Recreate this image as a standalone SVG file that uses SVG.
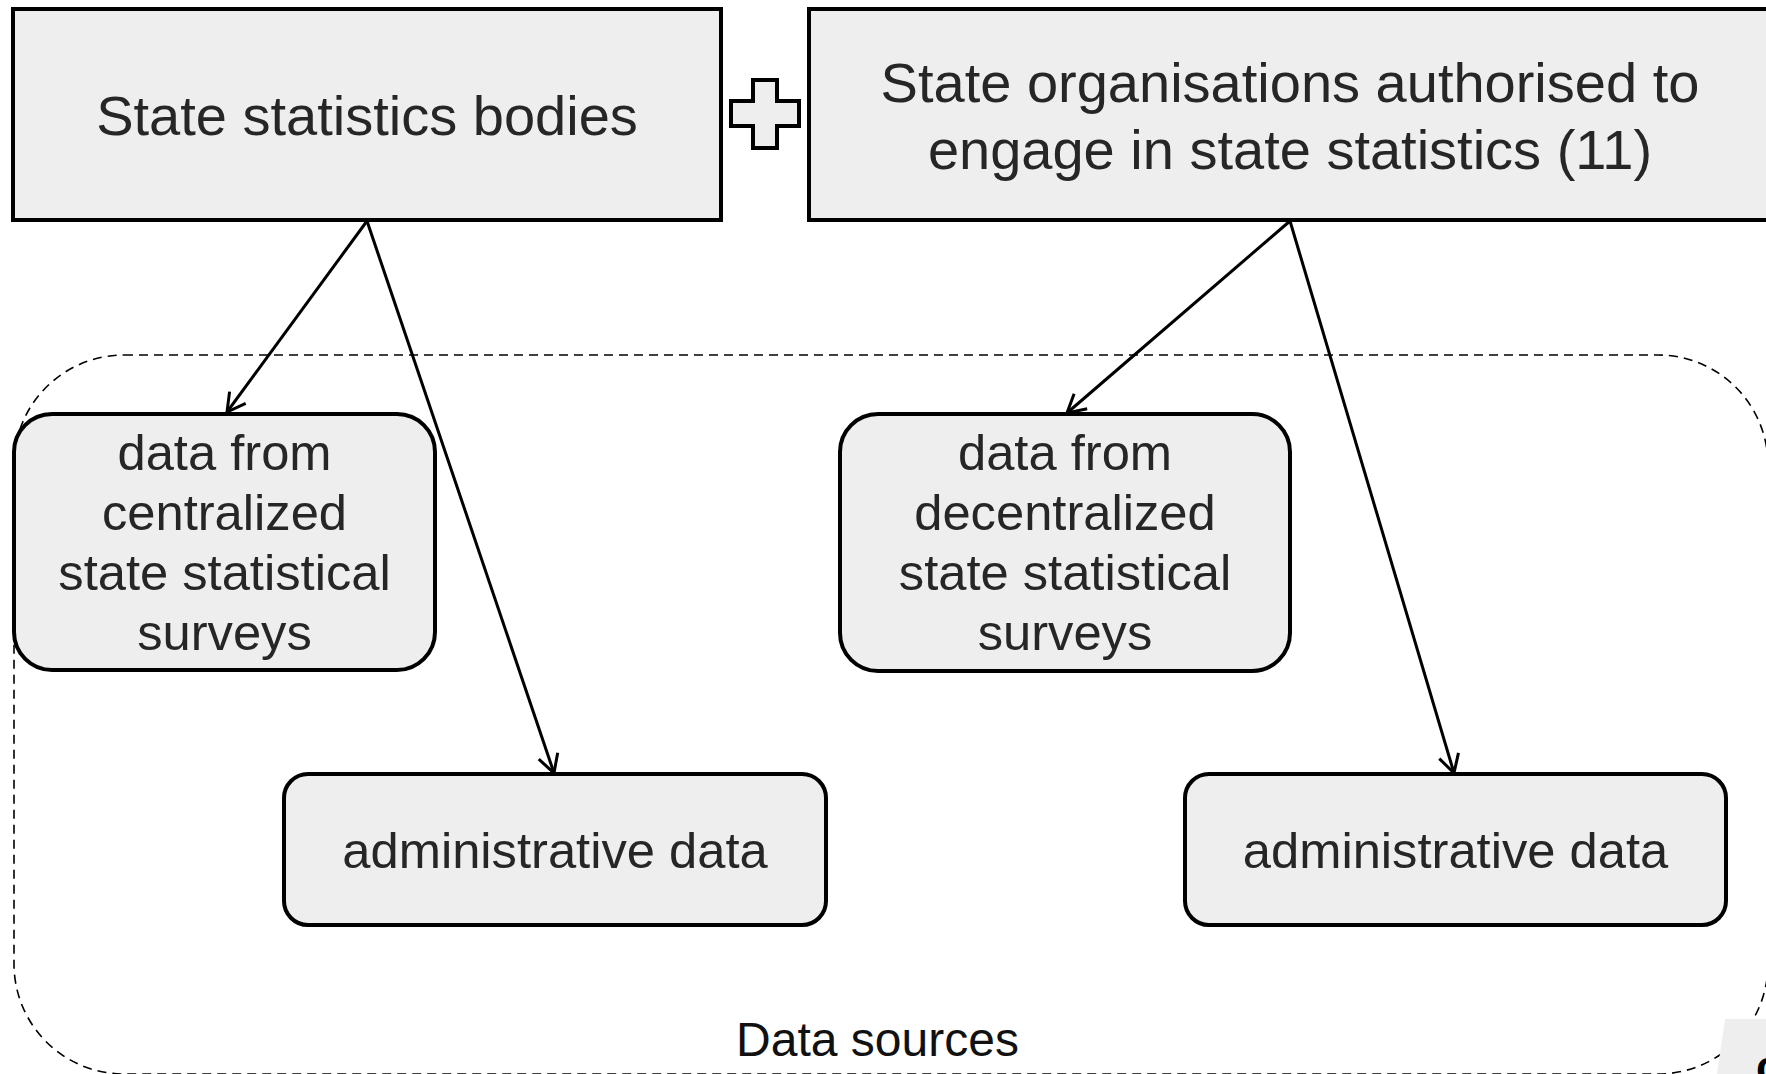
<svg xmlns="http://www.w3.org/2000/svg" width="1766" height="1074" viewBox="0 0 1766 1074">
  <defs>
    <style>
      .box { fill: #eeeeee; stroke: #000000; stroke-width: 4; }
      .lbl { font-family: "Liberation Sans", Arial, sans-serif; fill: #262626; text-anchor: middle; }
      .big { font-size: 56px; }
      .mid { font-size: 50.7px; }
      .conn { stroke: #000000; stroke-width: 3; fill: none; }
      .group { fill: none; stroke: #000000; stroke-width: 1.6; stroke-dasharray: 9 6; }
    </style>
    <marker id="arrow" viewBox="-22 -12 26 24" refX="0" refY="0" markerWidth="26" markerHeight="24" markerUnits="userSpaceOnUse" orient="auto">
      <path d="M -18 -10 L 0 0 L -18 10" fill="none" stroke="#000000" stroke-width="3" stroke-linejoin="miter"/>
    </marker>
  </defs>
  <rect width="1766" height="1074" fill="#ffffff"/>

  <g id="data-sources-group">
    <rect class="group" x="14" y="355" width="1754" height="719" rx="110" ry="110"/>
    <text class="lbl" x="877.5" y="1056" font-size="48" style="fill:#111111">Data sources</text>
  </g>

  <g id="node-state-statistics-bodies">
    <rect class="box" x="13" y="9" width="708" height="211"/>
    <text class="lbl big" x="367" y="135">State statistics bodies</text>
  </g>

  <g id="plus-sign">
    <path d="M 753 80 H 777 V 101 H 799 V 126 H 777 V 148 H 753 V 126 H 731 V 101 H 753 Z" fill="#eeeeee" stroke="#000000" stroke-width="4"/>
  </g>

  <g id="node-state-organisations">
    <rect class="box" x="809" y="9" width="965" height="211"/>
    <text class="lbl big" x="1290" y="102">State organisations authorised to</text>
    <text class="lbl big" x="1290" y="169">engage in state statistics (11)</text>
  </g>

  <g id="node-centralized">
    <rect class="box" x="14" y="414" width="421" height="256" rx="38" ry="38"/>
    <text class="lbl mid" x="224.5" y="470">data from</text>
    <text class="lbl mid" x="224.5" y="530">centralized</text>
    <text class="lbl mid" x="224.5" y="590">state statistical</text>
    <text class="lbl mid" x="224.5" y="650">surveys</text>
  </g>

  <g id="node-decentralized">
    <rect class="box" x="840" y="414" width="450" height="257" rx="38" ry="38"/>
    <text class="lbl mid" x="1065" y="470">data from</text>
    <text class="lbl mid" x="1065" y="530">decentralized</text>
    <text class="lbl mid" x="1065" y="590">state statistical</text>
    <text class="lbl mid" x="1065" y="650">surveys</text>
  </g>

  <g id="node-admin-left">
    <rect class="box" x="284" y="774" width="542" height="151" rx="24" ry="24"/>
    <text class="lbl mid" x="555" y="868">administrative data</text>
  </g>

  <g id="node-admin-right">
    <rect class="box" x="1185" y="774" width="541" height="151" rx="24" ry="24"/>
    <text class="lbl mid" x="1455.5" y="868">administrative data</text>
  </g>

  <g id="connectors">
    <line class="conn" x1="367" y1="221" x2="227" y2="412" marker-end="url(#arrow)"/>
    <line class="conn" x1="367" y1="221" x2="554" y2="773" marker-end="url(#arrow)"/>
    <line class="conn" x1="1290" y1="221" x2="1067" y2="413" marker-end="url(#arrow)"/>
    <line class="conn" x1="1290" y1="221" x2="1454" y2="773" marker-end="url(#arrow)"/>
  </g>

  <g id="corner-fragment">
    <polygon points="1725,1019 1766,1019 1766,1074 1717,1074" fill="#eeeeee"/>
    <text x="1756" y="1082" font-family="Liberation Sans, Arial, sans-serif" font-weight="bold" font-size="44" fill="#000000">c</text>
  </g>
</svg>
